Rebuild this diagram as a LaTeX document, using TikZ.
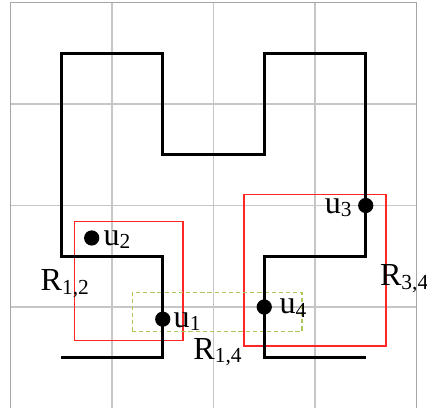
\documentclass[tikz,border=0pt]{standalone}
\usepackage{fontspec}
\setmainfont{Liberation Serif}
\begin{document}
\begin{tikzpicture}[x=1cm,y=1cm,
  gridline/.style={draw=gray!45,line width=0.4pt},
  frame/.style={draw=gray!70,line width=0.4pt},
  curve/.style={line width=0.85pt,line join=miter},
  dot/.style={circle,fill=black,inner sep=0pt,minimum size=0.15cm},
  region/.style={draw=red!85,line width=0.4pt},
  regiondash/.style={draw={rgb,255:red,170;green,200;blue,90},line width=0.4pt,dash pattern=on 1.2pt off 0.8pt},
  lab/.style={font=\fontsize{9}{10}\selectfont,inner sep=0pt,anchor=base west}]
\useasboundingbox (-0.1034,0.005) rectangle (4.1034,4.0246);
\draw[gridline] (0,0) grid (4,4);
\draw[frame] (0,0) rectangle (4,4);
% regions
\draw[region] (0.63,0.668) rectangle (1.70,1.84);
\draw[region] (2.30,0.616) rectangle (3.70,2.11);
\draw[regiondash] (1.2,0.76) rectangle (2.87,1.145);
% curve
\draw[curve] (0.5,0.5) -- (1.5,0.5) -- (1.5,1.5) -- (0.5,1.5) -- (0.5,3.5) -- (1.5,3.5) -- (1.5,2.5) -- (2.5,2.5) -- (2.5,3.5) -- (3.5,3.5) -- (3.5,1.5) -- (2.5,1.5) -- (2.5,0.5) -- (3.5,0.5);
% points
\node[dot] (u1) at (1.5,0.88) {};
\node[dot] (u2) at (0.8,1.68) {};
\node[dot] (u3) at (3.5,2.0) {};
\node[dot] (u4) at (2.5,1.0) {};
% labels
\node[lab] (l1) at (1.601,0.80) {u\textsubscript{1}};
\node[lab] (l2) at (0.911,1.61) {u\textsubscript{2}};
\node[lab,anchor=base east] (l3) at (3.385,1.923) {u\textsubscript{3}};
\node[lab] (l4) at (2.645,0.931) {u\textsubscript{4}};
\node[lab] (r12) at (0.291,1.158) {R\textsubscript{1,2}};
\node[lab] (r14) at (1.795,0.485) {R\textsubscript{1,4}};
\node[lab] (r34) at (3.634,1.207) {R\textsubscript{3,4}};
\end{tikzpicture}
\end{document}
